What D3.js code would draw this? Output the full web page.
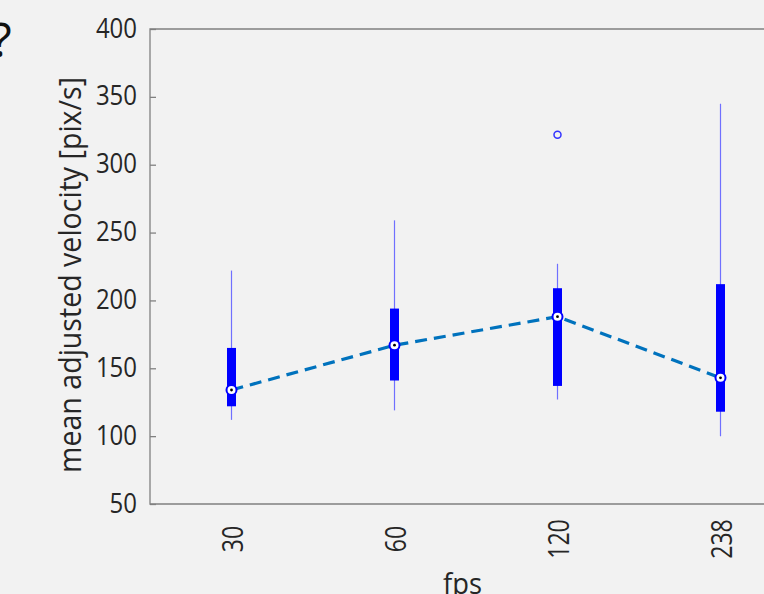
<!DOCTYPE html>
<html><head><meta charset="utf-8">
<script src="https://cdn.jsdelivr.net/npm/d3@7"></script>
<style>html,body{margin:0;padding:0;background:#f2f2f2;overflow:hidden}</style>
</head><body>
<script>
const categories = ["30","60","120","238"];
const whiskerLow = [112, 119, 127, 100];
const boxLow = [122, 141, 137, 118];
const medians = [134, 167, 188, 143];
const boxHigh = [165, 194, 209, 212];
const whiskerHigh = [222, 259, 227, 345];
const outliers = [{cat:"120", value:322}];
const yTicks = [50,100,150,200,250,300,350,400];

(function(){
const W = 764, H = 594;
const svg = d3.select("body").append("svg").attr("width", W).attr("height", H)
  .style("background", "#f2f2f2").style("display", "block");

const mLeft = 150, mTop = 29, mBottom = 504, mRight = 802;
const x = d3.scalePoint().domain(categories).range([mLeft, mRight]).padding(0.5);
const y = d3.scaleLinear().domain([50, 400]).range([mBottom, mTop]);

const font = "'Open Sans', 'Noto Sans', sans-serif";
const textColor = "#262626";
function squeeze(sel, lenFn) {
  sel.each(function(d, i) {
    d3.select(this).attr("textLength", lenFn(this, d, i)).attr("lengthAdjust", "spacingAndGlyphs");
  });
}

svg.append("text").attr("x", -9).attr("y", 57).text("?")
  .attr("font-family", font).attr("font-size", 48).attr("fill", "#111");

svg.append("path")
  .attr("d", `M${mRight},${mTop}H${mLeft}V${mBottom}H${mRight}`)
  .attr("fill", "none").attr("stroke", "#808080").attr("stroke-width", 1.3);

const yAxis = d3.axisLeft(y).tickValues(yTicks).tickSize(-6).tickPadding(13);
const gy = svg.append("g").attr("transform", `translate(${mLeft},0)`).call(yAxis);
gy.select(".domain").remove();
gy.selectAll(".tick line").attr("stroke", "#808080").attr("stroke-width", 1.3);
const yt = gy.selectAll(".tick text").attr("font-family", font).attr("font-size", 26.5)
  .attr("fill", textColor).attr("dy", null).attr("y", 8);
squeeze(yt, el => el.textContent.length * 13.7);

const xAxis = d3.axisBottom(x).tickSize(0).tickPadding(0);
const gx = svg.append("g").attr("transform", `translate(0,0)`).call(xAxis);
gx.select(".domain").remove();
const xt = gx.selectAll(".tick text")
  .attr("font-family", font).attr("font-size", 29.5).attr("fill", textColor)
  .attr("text-anchor", "middle").attr("dy", null).attr("y", 0).attr("x", 0)
  .attr("transform", "translate(11,539) rotate(-90)");
squeeze(xt, el => el.textContent.length * 13.2);

const yl = svg.append("text").attr("transform", `translate(81,275) rotate(-90)`)
  .attr("text-anchor", "middle").attr("font-family", font).attr("font-size", 31)
  .attr("fill", textColor).text("mean adjusted velocity [pix/s]");
squeeze(yl, () => 396);
const xl = svg.append("text").attr("x", 462.5).attr("y", 594).attr("text-anchor", "middle")
  .attr("font-family", font).attr("font-size", 29).attr("fill", textColor).text("fps");
squeeze(xl, () => 39);

svg.selectAll(".whisker").data(categories).enter().append("line")
  .attr("x1", d => x(d)).attr("x2", d => x(d))
  .attr("y1", (d,i) => y(whiskerLow[i])).attr("y2", (d,i) => y(whiskerHigh[i]))
  .attr("stroke", "#7070ff").attr("stroke-width", 1.2);

svg.selectAll(".box").data(categories).enter().append("rect")
  .attr("x", d => x(d) - 4.5).attr("width", 9)
  .attr("y", (d,i) => y(boxHigh[i])).attr("height", (d,i) => y(boxLow[i]) - y(boxHigh[i]))
  .attr("fill", "#0000ff");

const line = d3.line().x(d => x(d.c)).y(d => y(d.v));
svg.append("path").datum(categories.map((c,i) => ({c, v: medians[i]})))
  .attr("d", line).attr("fill", "none").attr("stroke", "#0072BD")
  .attr("stroke-width", 3.2).attr("stroke-dasharray", "12,7");

svg.selectAll(".med").data(categories).enter().append("circle")
  .attr("cx", d => x(d)).attr("cy", (d,i) => y(medians[i])).attr("r", 5)
  .attr("fill", "#fff").attr("stroke", "#0000ff").attr("stroke-width", 2);
svg.selectAll(".medDot").data(categories).enter().append("circle")
  .attr("cx", d => x(d)).attr("cy", (d,i) => y(medians[i])).attr("r", 1.4)
  .attr("fill", "#000");

svg.selectAll(".out").data(outliers).enter().append("circle")
  .attr("cx", d => x(d.cat)).attr("cy", d => y(d.value)).attr("r", 3.5)
  .attr("fill", "none").attr("stroke", "#3333ff").attr("stroke-width", 1.5);
})();
</script>
</body></html>
